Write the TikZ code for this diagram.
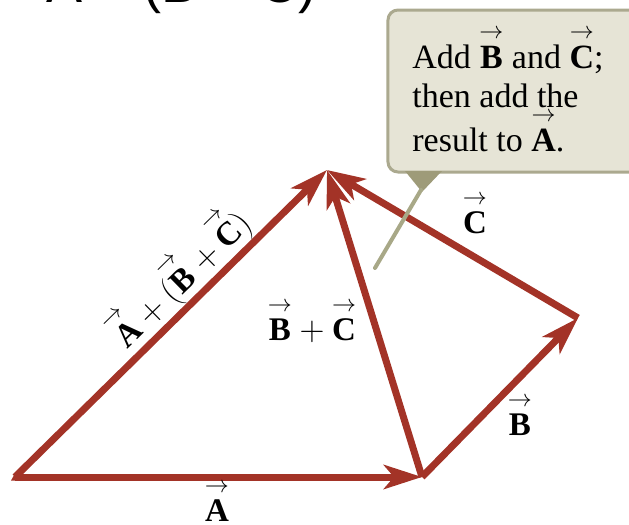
\documentclass[tikz,border=0pt]{standalone}
\usepackage{xcolor}
\usepackage{tikz}
\usepackage{amsmath}
\usepackage{fontspec}
\setmainfont{Liberation Serif}
\newfontfamily\titlefont{Liberation Sans}
\usetikzlibrary{arrows.meta, positioning, calc}
\definecolor{vecred}{HTML}{A33327}
\definecolor{boxfill}{HTML}{E6E4D6}
\definecolor{boxedge}{HTML}{ABA98F}
\definecolor{tipfill}{HTML}{9E9B79}
\definecolor{leadcol}{HTML}{A8A887}
\newcommand{\vecbf}[1]{\overset{\rightarrow}{\textbf{#1}}}

\begin{document}
\begin{tikzpicture}[x=0.5pt, y=-0.5pt,
    vector/.style={draw=vecred, line width=3.5pt, -{Stealth[length=19pt, width=12pt, inset=5pt]}},
    veclabel/.style={font=\fontsize{16.5}{18}\selectfont, inner sep=0pt},
    callout/.style={draw=boxedge, line width=1.5pt, fill=boxfill, rounded corners=5pt},
    leader/.style={draw=leadcol, line width=2pt, line cap=round}
]
    \useasboundingbox (0,0) rectangle (629,525);
    \clip (0,0) rectangle (629,525);

    % Heading, cut off by the top edge
    \node[anchor=base west, inner sep=0pt, font=\titlefont\fontsize{27}{30}\selectfont] (heading) at (46,2) {A + (B + C)};

    % Corners
    \coordinate (O) at (15,477);
    \coordinate (P) at (422,477);
    \coordinate (Q) at (578,318);
    \coordinate (R) at (327,170);

    % Vectors
    \draw[vector] (O) -- (P);
    \draw[vector] (P) -- (Q);
    \draw[vector] (Q) -- (R);
    \draw[vector] (P) -- (R);
    \draw[vector] (O) -- (R);
    \fill[vecred] (O) ++(0,-3.5) -- ++(-4,7) -- ++(8,0) -- cycle;

    % Labels
    \node[veclabel, anchor=base] (labA) at (217,521) {$\vecbf{A}$};
    \node[veclabel, anchor=base] (labB) at (520,435) {$\vecbf{B}$};
    \node[veclabel, anchor=base] (labC) at (475,233) {$\vecbf{C}$};
    \node[veclabel, anchor=base] (labBC) at (312,340) {$\vecbf{B} + \vecbf{C}$};
    \node[veclabel, rotate=44.5] (labsum) at (179,276) {$\vecbf{A} + (\vecbf{B} + \vecbf{C})$};

    % Callout
    \path[callout] (388,10) rectangle (645,172);
    \fill[tipfill] (405,171) -- (442,171) -- (422,192) -- cycle;
    \coordinate (tip) at (421,190);
    \coordinate (tail) at (375,268);
    \draw[leader] (tip) -- (tail);
    \node[anchor=north west, align=left, inner sep=0pt, font=\fontsize{17}{19.5}\selectfont] (note) at (412,26)
        {Add $\vecbf{B}$ and $\vecbf{C}$;\\then add the\\result to $\vecbf{A}$.};
\end{tikzpicture}
\end{document}
